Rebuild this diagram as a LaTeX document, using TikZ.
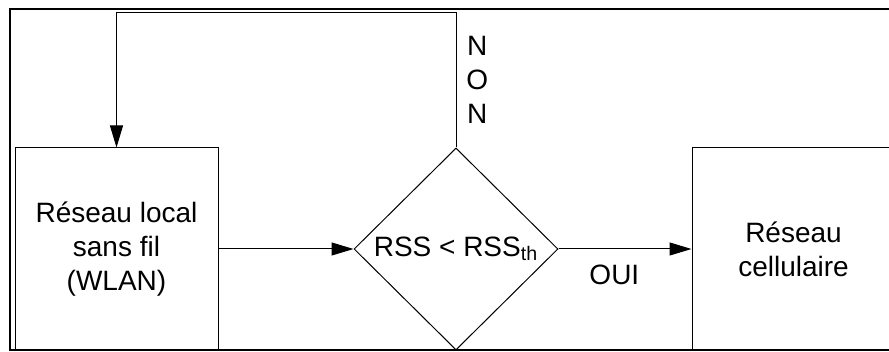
\documentclass[tikz,border=0pt]{standalone}
\usepackage{fontspec}
\setmainfont{Liberation Sans}
\usetikzlibrary{arrows.meta,positioning,shapes.geometric,calc}

\begin{document}
\begin{tikzpicture}[x=0.5pt,y=-0.5pt,font=\fontsize{14}{17}\selectfont,
    bloc/.style={draw,line width=0.5pt,minimum width=101.5pt,minimum height=101pt,inner sep=0pt,align=center},
    decision/.style={draw,diamond,line width=0.5pt,minimum width=102pt,minimum height=101pt,inner sep=0pt},
    fleche/.style={line width=0.5pt,-{Triangle[length=11pt,width=6.5pt]}},
    lbl/.style={inner sep=0pt,align=center}]
    \path[use as bounding box,clip] (0,0) rectangle (889,352);
    \draw[line width=1pt] (10,9) rectangle (900,350);
    \node[bloc] (wlan) at (116.5,249) {Réseau local\\sans fil\\(WLAN)};
    \node[decision,right=67.5pt of wlan] (rss) {RSS < RSS\textsubscript{th}};
    \node[bloc,right=66.5pt of rss] (cell) {Réseau\\cellulaire};
    \coordinate (boucle) at ($(rss.north)+(0,-135)$);
    \draw[fleche] (wlan) -- (rss);
    \draw[fleche] (rss) -- node[lbl,below=7.5pt,pos=0.42] (oui) {OUI} (cell);
    \draw[fleche] (rss.north) -- (boucle) -| (wlan.north);
    \node[lbl,right=5pt] (non) at ($(rss.north)!0.5!(boucle)$) {N\\O\\N};
  \end{tikzpicture}
\end{document}
